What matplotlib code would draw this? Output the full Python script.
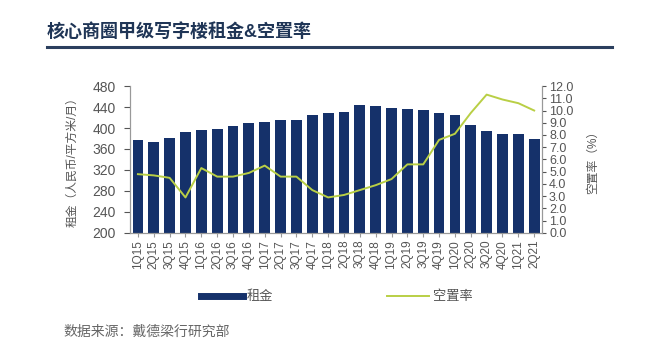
import numpy as np
import matplotlib
matplotlib.use('agg')
import matplotlib.pyplot as plt
from matplotlib.lines import Line2D

plt.rcParams['font.family'] = ['Liberation Sans', 'Noto Sans CJK SC', 'DejaVu Sans']

quarters = ['1Q15', '2Q15', '3Q15', '4Q15', '1Q16', '2Q16', '3Q16', '4Q16',
            '1Q17', '2Q17', '3Q17', '4Q17', '1Q18', '2Q18', '3Q18', '4Q18',
            '1Q19', '2Q19', '3Q19', '4Q19', '1Q20', '2Q20', '3Q20', '4Q20',
            '1Q21', '2Q21']
rent = [377, 374, 380, 393, 396, 398, 403, 410, 411, 416, 415, 424,
        428, 431, 444, 441, 439, 437, 434, 429, 425, 406, 394, 388,
        388, 379]
vacancy = [4.8, 4.7, 4.5, 2.9, 5.3, 4.6, 4.6, 4.9, 5.5, 4.6, 4.6, 3.5,
           2.9, 3.1, 3.5, 3.9, 4.4, 5.6, 5.6, 7.6, 8.1, 9.8, 11.3, 10.9,
           10.6, 10.0]

navy = '#15316a'
green = '#b9cf45'
grey = '#555555'

fig = plt.figure(figsize=(6.5, 3.6), dpi=100)
ax = fig.add_axes([0.2, 0.353, 0.634, 0.408])
ax2 = ax.twinx()

x = np.arange(len(quarters))
ax.bar(x, rent, width=0.68, color=navy, zorder=2)
ax.set_ylim(200, 480)
ax.set_yticks(np.arange(200, 481, 40))
ax.set_xlim(-0.5, len(quarters) - 0.5)
ax.set_xticks(x)
ax.set_xticklabels(quarters, rotation=90, fontsize=8.5, color=grey)
ax.tick_params(axis='y', labelsize=10, colors=grey, length=4, pad=6)
ax.tick_params(axis='x', length=3, color='#999999', pad=2)
ax.set_ylabel('租金（人民币/平方米/月）', fontsize=8.5, color=grey, labelpad=10)

ax2.plot(x, vacancy, color=green, lw=1.4, zorder=3)
ax2.set_ylim(0, 12)
ax2.set_yticks(np.arange(0, 12.1, 1))
ax2.set_yticklabels(['%.1f' % v for v in np.arange(0, 12.1, 1)])
ax2.tick_params(axis='y', labelsize=9, colors=grey, length=3, pad=2)
ax2.set_ylabel('空置率（%）', fontsize=8.5, color=grey, rotation=90, labelpad=10)

for a in (ax, ax2):
    a.spines['top'].set_visible(False)
    for s in ('left', 'right', 'bottom'):
        a.spines[s].set_color('#999999')
        a.spines[s].set_linewidth(0.8)

# title and rule
fig.text(0.072, 0.91, '核心商圈甲级写字楼租金&空置率', fontsize=13,
         fontweight='bold', color='#1f3556', va='center')
fig.add_artist(Line2D([0.072, 0.942], [0.87, 0.87], color='#2b3f5e', lw=2.2))

handles = [Line2D([], [], color=navy, lw=5),
           Line2D([], [], color=green, lw=1.4)]
fig.legend(handles, ['租金', '空置率'], loc='center', bbox_to_anchor=(0.518, 0.175),
           ncol=2, frameon=False, fontsize=9.5, handlelength=3.2, columnspacing=8.6,
           labelcolor=grey, handletextpad=0.3)

fig.text(0.097, 0.078, '数据来源：戴德梁行研究部', fontsize=10, color='#666666',
         style='italic', va='center')

fig.savefig('out.png', dpi=100, facecolor='white')
